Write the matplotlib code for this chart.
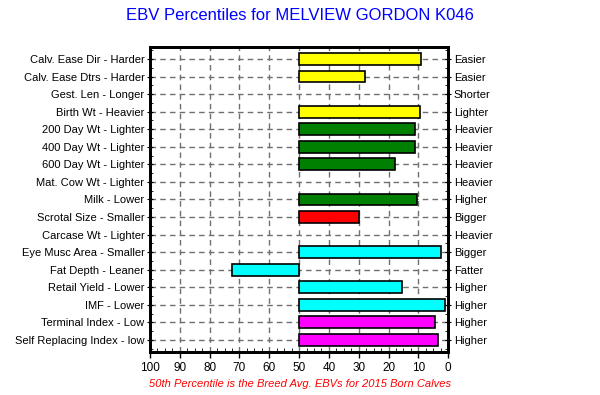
import numpy as np
import matplotlib.pyplot as plt
from matplotlib.ticker import MultipleLocator

plt.rcParams['font.family'] = ['Liberation Sans', 'DejaVu Sans']

traits = ['Calv. Ease Dir - Harder', 'Calv. Ease Dtrs - Harder', 'Gest. Len - Longer',
          'Birth Wt - Heavier', '200 Day Wt - Lighter', '400 Day Wt - Lighter',
          '600 Day Wt - Lighter', 'Mat. Cow Wt - Lighter', 'Milk - Lower',
          'Scrotal Size - Smaller', 'Carcase Wt - Lighter', 'Eye Musc Area - Smaller',
          'Fat Depth - Leaner', 'Retail Yield - Lower', 'IMF - Lower',
          'Terminal Index - Low', 'Self Replacing Index - low']
good = ['Easier', 'Easier', 'Shorter', 'Lighter', 'Heavier', 'Heavier', 'Heavier',
        'Heavier', 'Higher', 'Bigger', 'Heavier', 'Bigger', 'Fatter', 'Higher',
        'Higher', 'Higher', 'Higher']
# percentile value (None = no bar)
pct = [9, 28, None, 9.5, 11, 11, 18, None, 10.5, 30, None, 2.5, 72.5, 15.5, 1, 4.5, 3.5]
colors = ['yellow', 'yellow', 'yellow', 'yellow', 'green', 'green', 'green', 'green',
          'green', 'red', 'cyan', 'cyan', 'cyan', 'cyan', 'cyan', 'magenta', 'magenta']

fig = plt.figure(figsize=(6, 3.95), dpi=100)
ax = fig.add_axes([0.25, 0.109, 0.497, 0.772])

y = np.arange(len(traits))
for i in range(len(traits)):
    if pct[i] is None:
        continue
    ax.barh(y[i], pct[i] - 50, left=50, height=0.68, color=colors[i],
            edgecolor='black', linewidth=1.2, zorder=3)

ax.set_xlim(100, 0)
ax.set_ylim(len(traits) - 1 + 0.68, -0.68)
ax.set_xticks(np.arange(100, -1, -10))
ax.xaxis.set_minor_locator(MultipleLocator(2.5))
ax.set_yticks(y)
ax.set_yticklabels(traits, fontsize=8)
ax.yaxis.set_minor_locator(MultipleLocator(0.5))
ax.tick_params(axis='x', labelsize=8.5, length=4, width=1, direction='out')
ax.tick_params(axis='x', which='minor', length=3, direction='in')
ax.tick_params(axis='y', length=4, direction='inout', pad=2)
ax.tick_params(axis='y', which='minor', length=2, direction='in', left=True, right=True)

ax2 = ax.twinx()
ax2.set_ylim(ax.get_ylim())
ax2.set_yticks(y)
ax2.set_yticklabels(good, fontsize=8)
ax2.yaxis.set_minor_locator(MultipleLocator(0.5))
ax2.tick_params(axis='y', length=4, direction='inout', pad=2)
ax2.tick_params(axis='y', which='minor', length=2, direction='in')

ax.grid(True, color='#707070', linestyle=(0, (4, 3)), linewidth=1.0, zorder=0)
ax.set_axisbelow(True)
for a in (ax, ax2):
    for s in a.spines.values():
        s.set_linewidth(2)

fig.text(0.5, 0.96, 'EBV Percentiles for MELVIEW GORDON K046', ha='center', va='center',
         color='blue', fontsize=12)
fig.text(0.5, 0.028, '50th Percentile is the Breed Avg. EBVs for 2015 Born Calves',
         ha='center', va='center', color='red', fontsize=8, style='italic')

fig.savefig('out.png', dpi=100)
